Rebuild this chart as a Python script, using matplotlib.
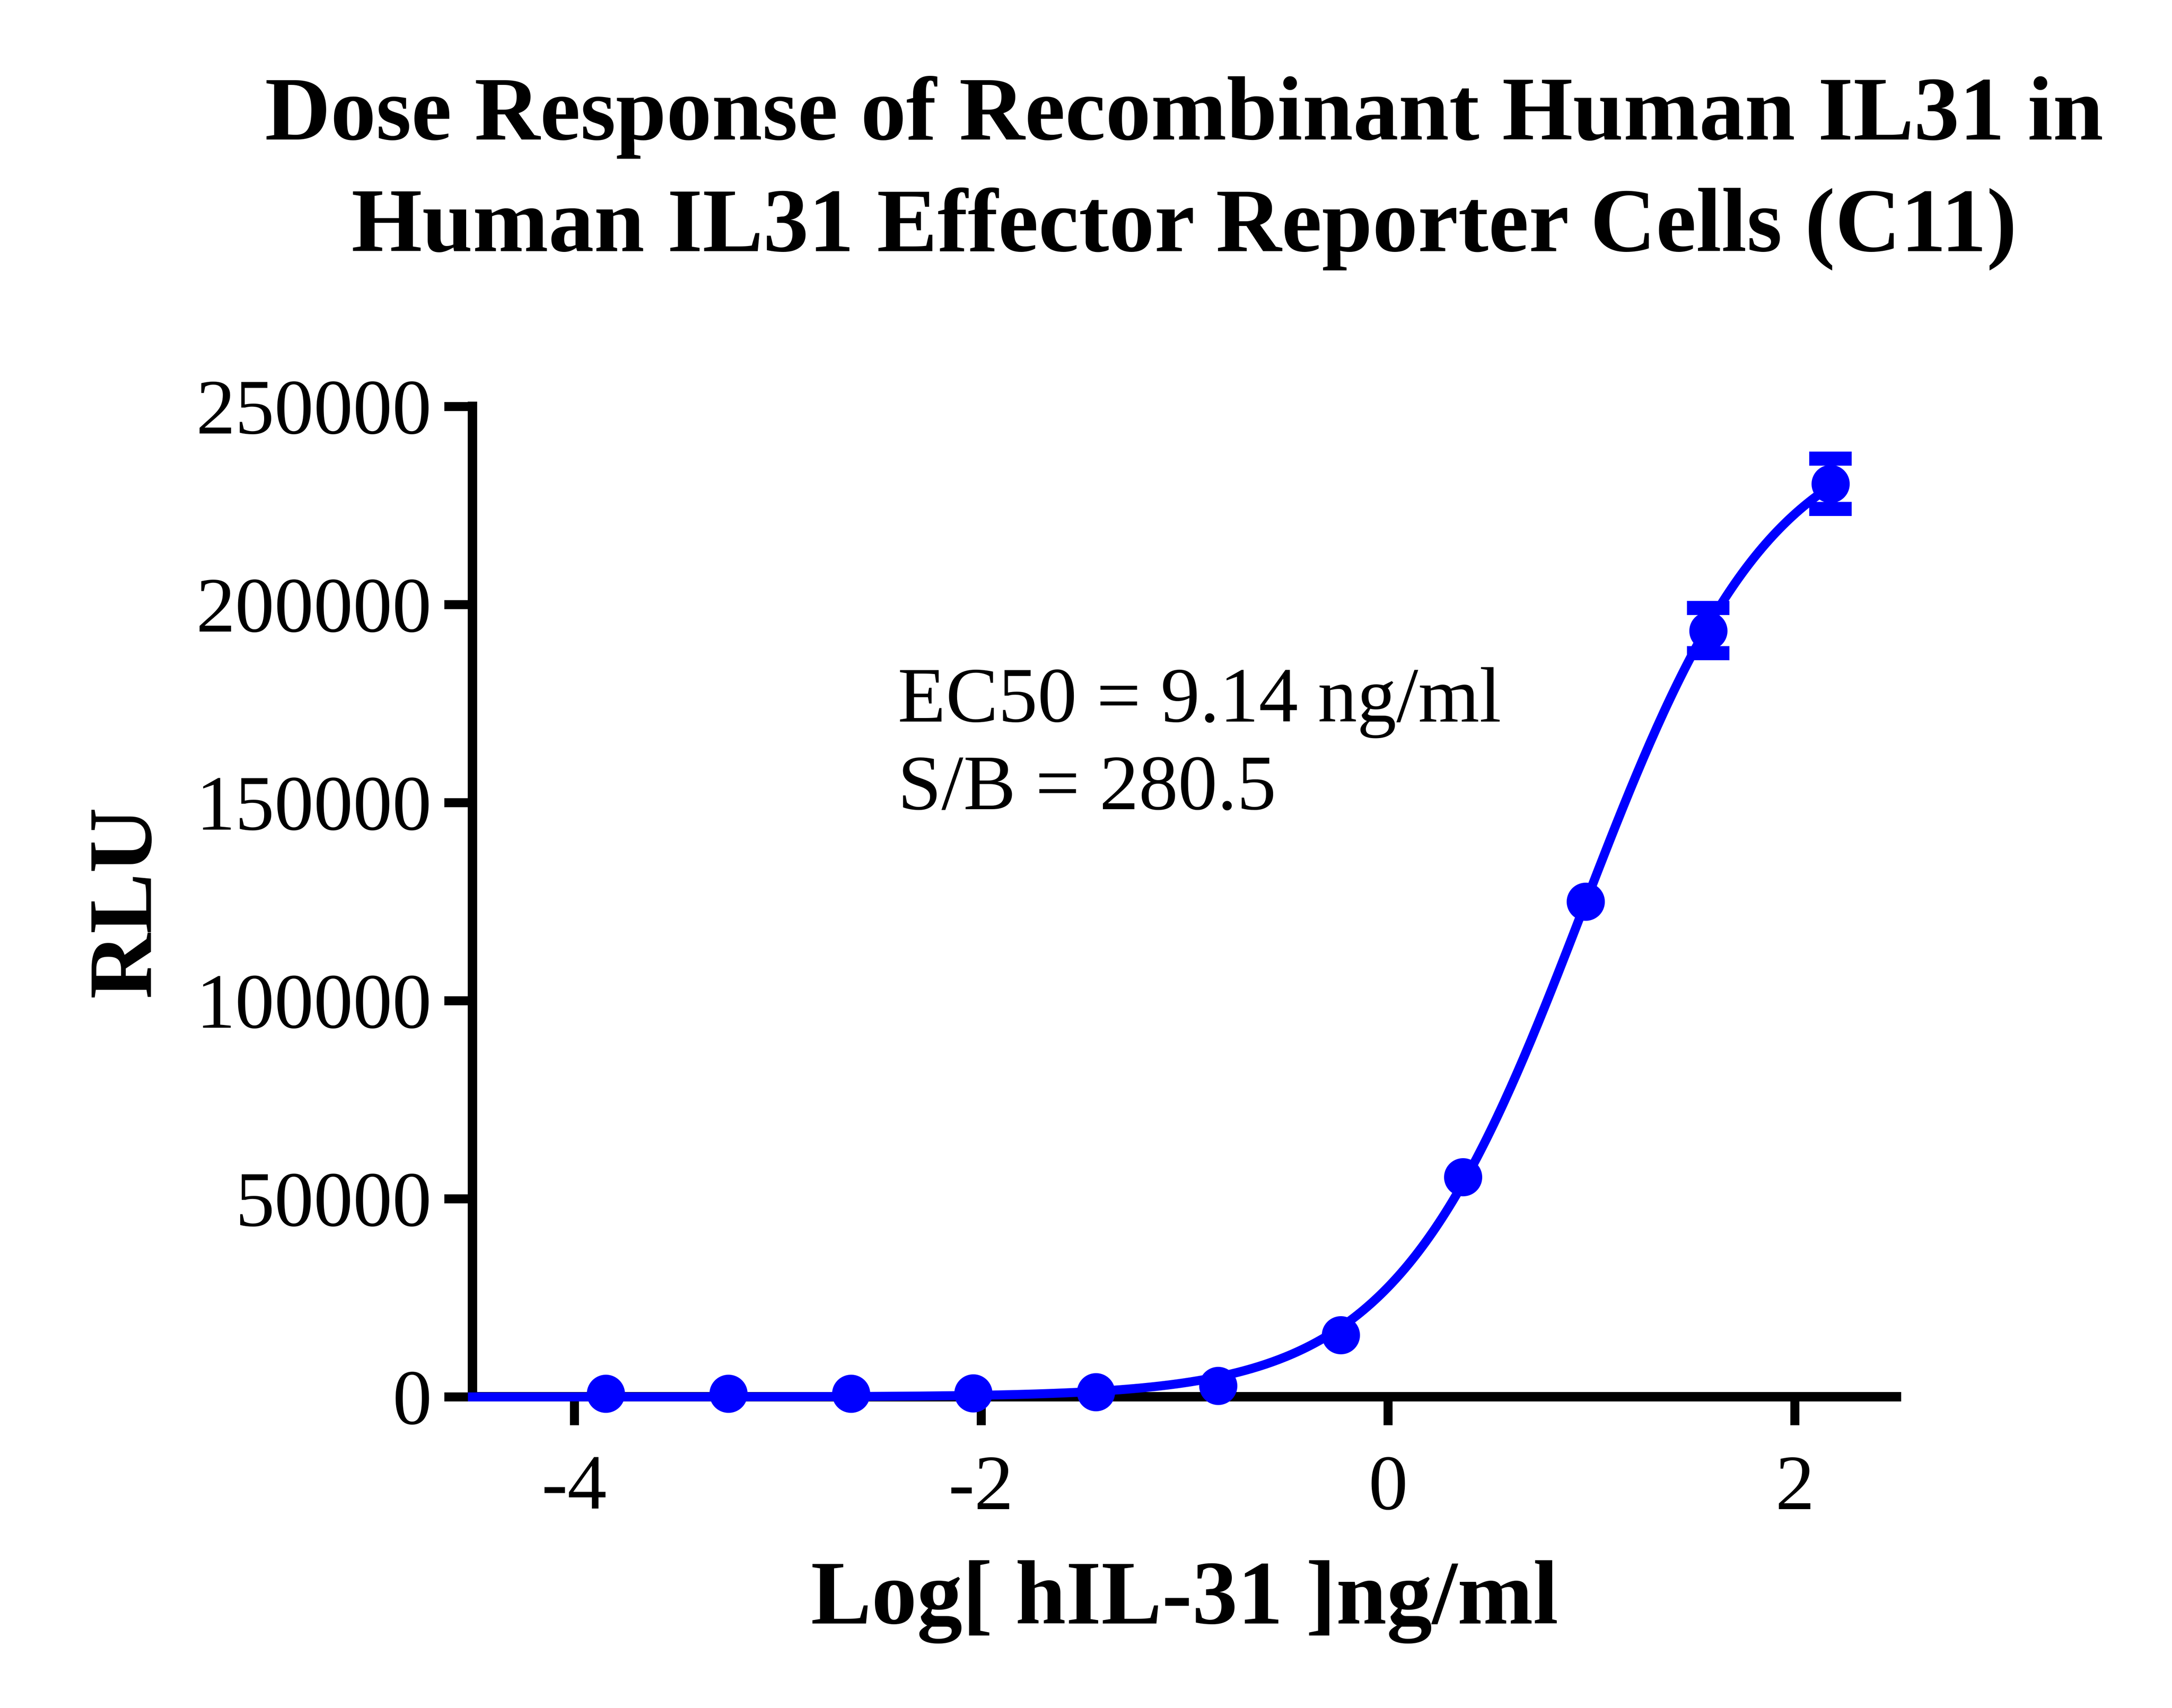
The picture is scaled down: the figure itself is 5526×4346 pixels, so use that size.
import numpy as np
import matplotlib
matplotlib.use("Agg")
import matplotlib.pyplot as plt

plt.rcParams['font.family'] = ['Liberation Serif', 'DejaVu Serif']
plt.rcParams['axes.unicode_minus'] = False

# data (log10 ng/ml, RLU)
log_conc = [-3.845, -3.242, -2.640, -2.038, -1.436, -0.834, -0.232, 0.370, 0.972, 1.574, 2.176]
rlu = [800, 820, 830, 850, 1200, 2800, 15600, 55500, 125000, 193400, 230500]
rlu_sd = [0, 0, 0, 0, 0, 0, 0, 0, 0, 5750, 6350]

ec50 = 9.14
sb = 280.5

title = "Dose Response of Recombinant Human IL31 in\nHuman IL31 Effector Reporter Cells (C11)"
xlabel = "Log[ hIL-31 ]ng/ml"
ylabel = "RLU"
yticks = [0, 50000, 100000, 150000, 200000, 250000]
xticks = [-4, -2, 0, 2]

blue = '#0000FF'

# 4PL fit with logEC50 fixed, bottom/top by least squares, hill by grid
x = np.array(log_conc)
y = np.array(rlu, dtype=float)
logec = np.log10(ec50)
best = None
for h in np.arange(0.5, 2.0, 0.001):
    g = 1.0 / (1.0 + 10 ** ((logec - x) * h))
    A = np.column_stack([1 - g, g])
    coef, res, _, _ = np.linalg.lstsq(A, y, rcond=None)
    err = np.sum((A @ coef - y) ** 2)
    if best is None or err < best[0]:
        best = (err, h, coef)
_, hill, (bottom, top) = best

xf = np.linspace(-4.5, x.max(), 400)
yf = bottom + (top - bottom) / (1.0 + 10 ** ((logec - xf) * hill))

fig = plt.figure(figsize=(5526 / 300, 4346 / 300), dpi=300)
ax = fig.add_axes([0.2175, 0.18224, 0.65562, 0.57984])

ax.plot(xf, yf, color=blue, lw=5.5, clip_on=False, zorder=3)
ax.plot(x, y, 'o', color=blue, ms=23.3, mew=0, clip_on=False, zorder=4)
sd = np.array(rlu_sd)
m = sd > 0
ax.errorbar(x[m], y[m], yerr=sd[m], fmt='none', ecolor=blue, elinewidth=5.5,
            capsize=13, capthick=8.6, clip_on=False, zorder=4)

ax.set_xlim(-4.5, 2.5)
ax.set_ylim(0, 250000)
ax.set_xticks(xticks)
ax.set_xticklabels([str(t) for t in xticks])
ax.set_yticks(yticks)
ax.set_yticklabels([str(t) for t in yticks])

for s in ['top', 'right']:
    ax.spines[s].set_visible(False)
for s in ['left', 'bottom']:
    ax.spines[s].set_linewidth(5.76)
    ax.spines[s].set_capstyle('projecting')

ax.tick_params(axis='both', direction='out', length=17.3, width=5.5, labelsize=48)
ax.tick_params(axis='x', pad=18)
ax.tick_params(axis='y', pad=7.5)

ax.set_xlabel(xlabel, fontsize=55.5, fontweight='bold')
ax.set_ylabel(ylabel, fontsize=55.5, fontweight='bold')
ax.xaxis.set_label_coords(0.5, -0.165)
ax.yaxis.set_label_coords(-0.213, 0.5)

# baseline of the last line
ax.text(-2.41, 148300, "EC50 = %.2f ng/ml\nS/B = %.1f" % (ec50, sb),
        fontsize=48, va='baseline', ha='left', linespacing=1.3)

fig.text(0.5451, 0.853, title, fontsize=55.5, fontweight='bold',
         ha='center', va='baseline', linespacing=1.45)

fig.savefig("out.png", dpi=300)
